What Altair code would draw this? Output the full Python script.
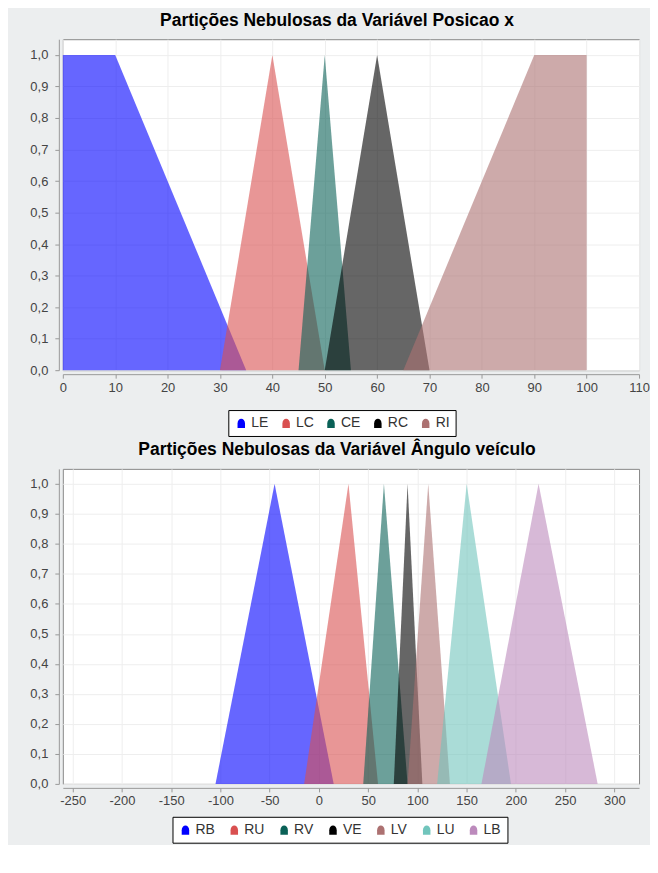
import altair as alt
import pandas as pd

# ---------------- data: variable "Posicao x" ----------------
pos_names = ["LE", "LC", "CE", "RC", "RI"]
pos_colors = ["#0000ff", "#d95050", "#0a6157", "#000000", "#ac7171"]
LE_x = [0, 10, 35]
LE_y = [1, 1, 0]
LC_x = [30, 40, 50]
LC_y = [0, 1, 0]
CE_x = [45, 50, 55]
CE_y = [0, 1, 0]
RC_x = [50, 60, 70]
RC_y = [0, 1, 0]
RI_x = [65, 90, 100]
RI_y = [0, 1, 1]
pos_ticks = [0, 10, 20, 30, 40, 50, 60, 70, 80, 90, 100, 110]

# ---------------- data: variable "Angulo veiculo" ----------------
ang_names = ["RB", "RU", "RV", "VE", "LV", "LU", "LB"]
ang_colors = ["#0000ff", "#d95050", "#0a6157", "#000000", "#ac7171", "#71c5bc", "#bc8abc"]
RB_x = [-105, -45, 15]
RU_x = [-15, 30, 60]
RV_x = [45, 66, 90]
VE_x = [76, 90, 105]
LV_x = [90, 111, 133]
LU_x = [120, 150, 195]
LB_x = [165, 223, 283]
tri_y = [0, 1, 0]
ang_ticks = [-250, -200, -150, -100, -50, 0, 50, 100, 150, 200, 250, 300]

y_ticks = [0.0, 0.1, 0.2, 0.3, 0.4, 0.5, 0.6, 0.7, 0.8, 0.9, 1.0]


def frame(names, xs, ys):
    rows = []
    for i, (n, xv, yv) in enumerate(zip(names, xs, ys)):
        for a, b in zip(xv, yv):
            rows.append({"set": n, "x": a, "y": b, "k": i})
    return pd.DataFrame(rows)


pos_df = frame(pos_names, [LE_x, LC_x, CE_x, RC_x, RI_x], [LE_y, LC_y, CE_y, RC_y, RI_y])
ang_df = frame(ang_names, [RB_x, RU_x, RV_x, VE_x, LV_x, LU_x, LB_x], [tri_y] * 7)

FONT = "Liberation Sans"
SYMBOL = "M-0.75,1 L-0.75,0.1 C-0.75,-1.2 0.75,-1.2 0.75,0.1 L0.75,1 Z"


def panel(df, names, colors, xdomain, xticks, title, h, lx, ly, colpad):
    x_axis = alt.Axis(values=xticks, labelExpr="datum.value + ''", title=None, grid=True,
                      gridColor="#eeeeee", domainColor="#999999", tickColor="#999999",
                      tickSize=4, labelPadding=3, labelFontSize=13, labelColor="#444444",
                      labelFont=FONT, offset=4, labelFlush=False)
    y_axis = alt.Axis(values=y_ticks, labelExpr="replace(format(datum.value, '.1f'), '.', ',')",
                      title=None, grid=True, gridColor="#eeeeee", domainColor="#999999",
                      tickColor="#999999", tickSize=4, labelPadding=7, labelFontSize=13,
                      labelColor="#444444", labelFont=FONT, offset=4, minExtent=45)
    return alt.Chart(df).mark_area(opacity=0.6, interpolate="linear").encode(
        x=alt.X("x:Q", scale=alt.Scale(domain=xdomain, nice=False, zero=False), axis=x_axis),
        y=alt.Y("y:Q", stack=None, scale=alt.Scale(domain=[0, 1.05], nice=False), axis=y_axis),
        color=alt.Color("set:N", scale=alt.Scale(domain=names, range=colors),
                        legend=alt.Legend(title=None, orient="none", direction="horizontal",
                                          legendX=lx, legendY=ly, strokeColor="#000000",
                                          fillColor="#ffffff", padding=6, symbolType=SYMBOL,
                                          symbolSize=100, symbolOpacity=1, symbolStrokeWidth=0,
                                          labelFontSize=14, labelFont=FONT, labelColor="#333333",
                                          columnPadding=colpad, labelOffset=3)),
        order=alt.Order("k:Q"),
    ).properties(
        width=578, height=h,
        title=alt.TitleParams(title, fontSize=17.5, fontWeight="bold", font=FONT, color="#000000",
                              offset=8, dy=-2, dx=-14, anchor="middle"),
    )


top = panel(pos_df, pos_names, pos_colors, [0, 110], pos_ticks,
            "Partições Nebulosas da Variável Posicao x", 332, 166, 372, 10)
bottom = panel(ang_df, ang_names, ang_colors, [-260, 325], ang_ticks,
               "Partições Nebulosas da Variável Ângulo veículo", 316, 110, 349, 12)

chart = alt.vconcat(top, bottom, spacing=4).resolve_scale(color="independent").resolve_legend(
    color="independent"
).configure(
    background="#eceeef",
    padding={"left": 5, "top": 2, "right": 0, "bottom": 0},
).configure_view(fill="#ffffff", stroke="#888888", strokeWidth=1)

chart.save("out.html", embed_options={"renderer": "svg", "actions": False})
